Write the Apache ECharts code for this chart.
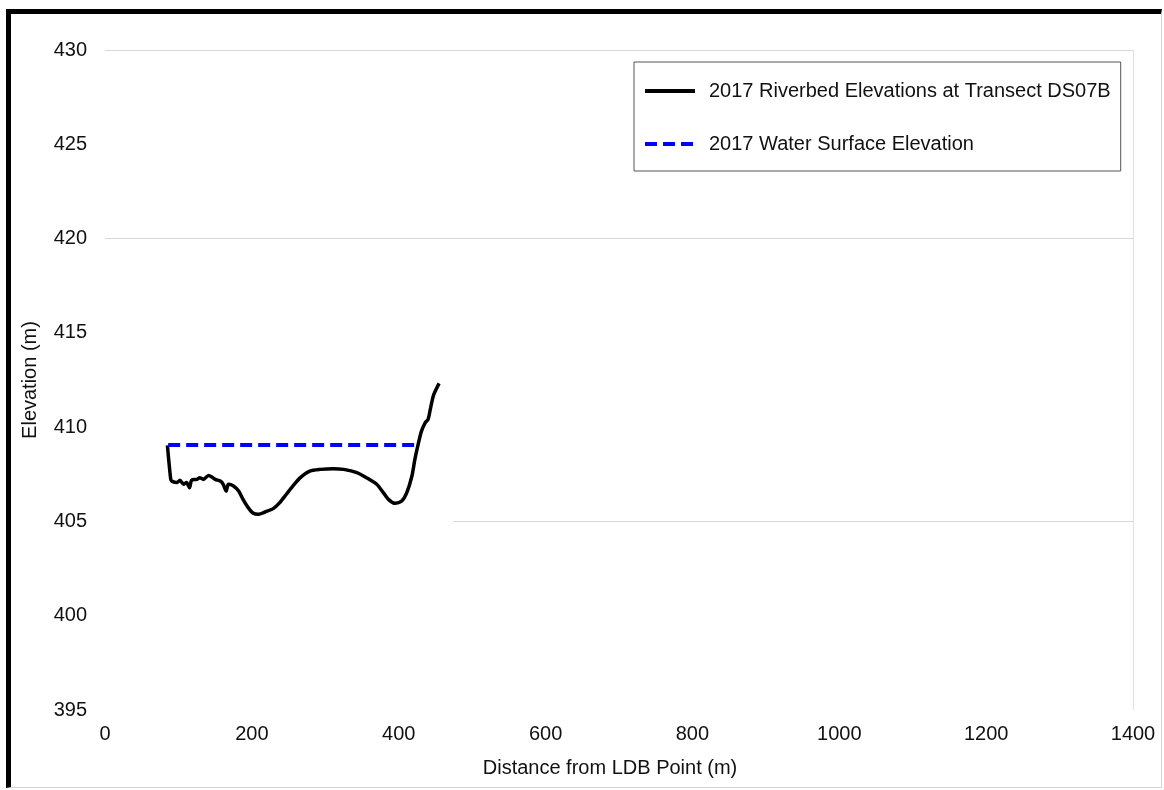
<!DOCTYPE html>
<html>
<head>
<meta charset="utf-8">
<script src="https://cdn.jsdelivr.net/npm/echarts@6/dist/echarts.min.js"></script>
<style>
  html, body { margin: 0; padding: 0; background: #fff; }
  #chart { position: absolute; left: 0; top: 0; width: 1164px; height: 790px; }
  #frame {
    position: absolute; left: 6px; top: 9px; width: 1156px; height: 779px;
    box-sizing: border-box;
    border-left: 5px solid #000; border-top: 5px solid #000;
    border-right: 1px solid #d4d4d4; border-bottom: 1px solid #d4d4d4;
    pointer-events: none;
  }
</style>
</head>
<body>
<div id="chart"></div>
<div id="frame"></div>
<script>
// Cross-section survey, 2017
const seriesNames = ['2017 Riverbed Elevations at Transect DS07B', '2017 Water Surface Elevation'];

// Riverbed profile: distance from LDB point (m) and bed elevation (m)
const bedDistance = [85, 89.5, 91, 98, 102, 107, 111, 115, 118, 125,
  129, 134, 141, 145, 150, 157, 161, 165, 168, 175,
  182, 188, 195, 202, 209, 218, 229, 238, 247, 256,
  266, 279, 293, 311, 325, 343, 356, 370, 379, 386,
  395, 404, 411, 418, 422, 427, 431, 436, 440, 443,
  447, 452, 455];
const bedElevation = [409.03, 407.23, 407.14, 407.06, 407.18, 406.97, 407.06, 406.79, 407.19, 407.23,
  407.32, 407.23, 407.44, 407.37, 407.23, 407.14, 406.97, 406.61, 406.97, 406.88,
  406.61, 406.17, 405.73, 405.43, 405.38, 405.50, 405.68, 406.00, 406.44, 406.88,
  407.32, 407.67, 407.76, 407.80, 407.76, 407.59, 407.32, 406.97, 406.53, 406.17,
  405.96, 406.08, 406.53, 407.41, 408.29, 409.18, 409.79, 410.23, 410.41, 410.94,
  411.64, 412.09, 412.32];

// Water surface: bank-to-bank extent and level
const waterDistance = [86, 426];
const waterElevation = [409.05, 409.05];

// Axis tick settings
const xTicks = { min: 0, max: 1400, interval: 200 };
const yTicks = { min: 395, max: 430, interval: 5 };

const FONT = '"Liberation Sans", Arial, sans-serif';
const zip = (xs, ys) => xs.map((x, i) => [x, ys[i]]);
const plain = v => String(v);

// Only some horizontal gridlines are drawn (by tick index, from 395 upward)
const gridColors = ['rgba(0,0,0,0)', 'rgba(0,0,0,0)', 'rgba(0,0,0,0)', 'rgba(0,0,0,0)',
  'rgba(0,0,0,0)', '#d6d6d6', 'rgba(0,0,0,0)', '#d6d6d6'];

const chart = echarts.init(document.getElementById('chart'), null, { renderer: 'canvas' });
chart.setOption({
  backgroundColor: 'transparent',
  animation: false,
  textStyle: { fontFamily: FONT },
  grid: { left: 105, right: 31, top: 50, bottom: 80 },
  legend: {
    orient: 'vertical', left: 634, top: 62,
    padding: [19, 10, 17, 9], itemGap: 33,
    itemWidth: 50, itemHeight: 20,
    borderColor: '#555', borderWidth: 1, backgroundColor: '#fff',
    itemStyle: { opacity: 0 },
    lineStyle: { width: 4 },
    textStyle: { fontSize: 20, color: '#111', fontFamily: FONT, padding: [0, 0, 0, 9] },
    data: seriesNames
  },
  xAxis: {
    type: 'value', min: xTicks.min, max: xTicks.max, interval: xTicks.interval,
    name: 'Distance from LDB Point (m)', nameLocation: 'middle', nameGap: 48,
    nameTextStyle: { fontSize: 20, color: '#111', fontFamily: FONT, padding: [0, 18, 0, 0] },
    axisLine: { show: false }, axisTick: { show: false }, splitLine: { show: false },
    axisLabel: { fontSize: 20, color: '#111', margin: 14, fontFamily: FONT, formatter: plain }
  },
  yAxis: [{
    type: 'value', min: yTicks.min, max: yTicks.max, interval: yTicks.interval,
    name: 'Elevation (m)', nameLocation: 'middle', nameGap: 65, nameRotate: 90,
    nameTextStyle: { fontSize: 20, color: '#111', fontFamily: FONT },
    axisLine: { show: false }, axisTick: { show: false },
    splitLine: { show: true, lineStyle: { color: gridColors, width: 1 } },
    axisLabel: { fontSize: 20, color: '#111', margin: 18, fontFamily: FONT, formatter: plain }
  }, {
    type: 'value', min: yTicks.min, max: yTicks.max, interval: yTicks.interval,
    position: 'right',
    axisLine: { show: true, lineStyle: { color: '#e2e2e2', width: 1 } },
    axisTick: { show: false }, axisLabel: { show: false }, splitLine: { show: false }
  }],
  series: [{
    name: seriesNames[0], type: 'line', data: zip(bedDistance, bedElevation),
    symbol: 'none', smooth: 0.25,
    lineStyle: { color: '#000', width: 3.5 }, itemStyle: { color: '#000' },
    z: 3
  }, {
    name: seriesNames[1], type: 'line', data: zip(waterDistance, waterElevation),
    symbol: 'none',
    lineStyle: { color: '#0000ff', width: 4, type: [12, 6] }, itemStyle: { color: '#0000ff' },
    z: 4,
    markLine: {
      silent: true, symbol: 'none', label: { show: false },
      lineStyle: { color: '#d6d6d6', width: 1, type: 'solid' },
      data: [[{ coord: [474, 405] }, { coord: [1400, 405] }]]
    }
  }]
});
</script>
</body>
</html>
